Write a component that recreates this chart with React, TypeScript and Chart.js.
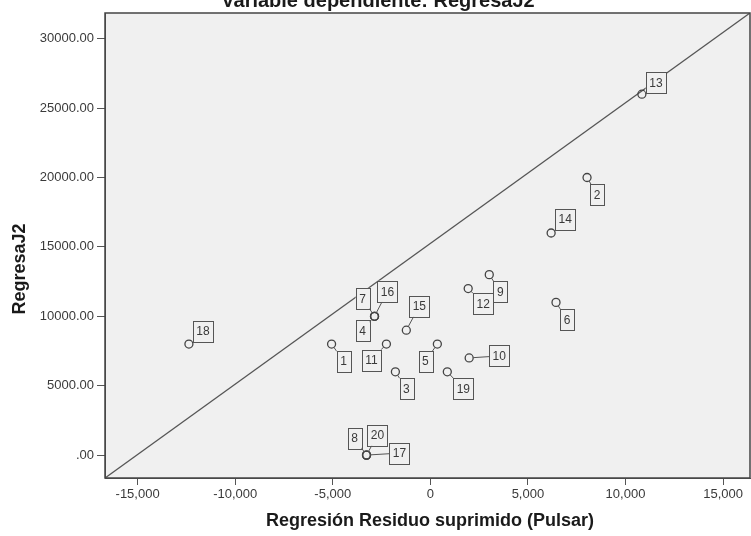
import React, { useEffect, useRef } from 'react';
import { Chart, registerables } from 'chart.js';

Chart.register(...registerables);

// ---- Data ----
const caseLabels = ['1', '2', '3', '4', '5', '6', '7', '8', '9', '10', '11', '12', '13', '14', '15', '16', '17', '18', '19', '20'];
const residualX = [-5060, 8030, -1790, -2860, 360, 6440, -2860, -3270, 3020, 1990, -2250, 1940, 10840, 6190, -1230, -2860, -3270, -12370, 870, -3270];
const dependentY = [8000, 20000, 6000, 10000, 8000, 11000, 10000, 0, 13000, 7000, 8000, 12000, 26000, 16000, 9000, 10000, 0, 8000, 6000, 0];
const xTickValues = [-15000, -10000, -5000, 0, 5000, 10000, 15000];
const yTickValues = [0, 5000, 10000, 15000, 20000, 25000, 30000];
const refLineX = [-16670, 16380];
const refLineY = [-1650, 31850];

const chartTitle = 'Variable dependiente: RegresaJ2';
const xAxisTitle = 'Regresión Residuo suprimido (Pulsar)';
const yAxisTitle = 'RegresaJ2';

// ---- Layout / style constants (label box offsets in pixels from each point) ----
const labelOffsets: [number, number][] = [
  [12, 17], [10, 17], [11, 17], [-12, 14], [-12, 17], [11, 17], [-12, -18], [-12, -17], [11, 17], [30, -2],
  [-15, 16], [15, 15], [14, -12], [14, -14], [13, -24], [13, -25], [33, -2], [14, -13], [16, 17], [11, -20],
];

const FONT = "'Liberation Sans', Arial, sans-serif";
const AXIS_COLOR = '#555555';
const TEXT_COLOR = '#3a3a3a';
const PLOT_BG = '#f0f0f0';

const decorPlugin = {
  id: 'decor',
  beforeDraw(chart: any) {
    const { ctx, chartArea: a } = chart;
    ctx.save();
    ctx.fillStyle = '#ffffff';
    ctx.fillRect(0, 0, chart.width, chart.height);
    ctx.fillStyle = PLOT_BG;
    ctx.fillRect(a.left, a.top, a.right - a.left, a.bottom - a.top);
    ctx.restore();
  },
  afterDraw(chart: any) {
    const { ctx, chartArea: a } = chart;
    const meta = chart.getDatasetMeta(0);
    ctx.save();
    ctx.font = `12px ${FONT}`;
    ctx.textAlign = 'center';
    ctx.textBaseline = 'middle';
    const boxH = 21;
    const r = 4;
    meta.data.forEach((el: any, i: number) => {
      const px = el.x;
      const py = el.y;
      const [dx, dy] = labelOffsets[i];
      const cx = px + dx;
      const cy = py + dy;
      const txt = caseLabels[i];
      const w = ctx.measureText(txt).width + 7;
      const bx0 = cx - w / 2;
      const by0 = cy - boxH / 2;
      const vx = cx - px;
      const vy = cy - py;
      const len = Math.hypot(vx, vy);
      if (len > 0) {
        const tx = vx !== 0 ? (w / 2) / Math.abs(vx) : Infinity;
        const ty = vy !== 0 ? (boxH / 2) / Math.abs(vy) : Infinity;
        const tBox = 1 - Math.min(tx, ty);
        const tCircle = r / len;
        if (tBox - tCircle > 0) {
          const ex = px + vx * tBox;
          const ey = py + vy * tBox;
          const sx = px + vx * tCircle;
          const sy = py + vy * tCircle;
          if (Math.hypot(ex - sx, ey - sy) > 2) {
            ctx.strokeStyle = '#555555';
            ctx.lineWidth = 1;
            ctx.beginPath();
            ctx.moveTo(sx, sy);
            ctx.lineTo(ex, ey);
            ctx.stroke();
          }
        }
      }
      ctx.fillStyle = PLOT_BG;
      ctx.fillRect(bx0, by0, w, boxH);
      ctx.strokeStyle = '#555555';
      ctx.lineWidth = 1;
      ctx.strokeRect(Math.round(bx0) + 0.5, Math.round(by0) + 0.5, Math.round(w), boxH);
      ctx.fillStyle = TEXT_COLOR;
      ctx.fillText(txt, cx, cy + 1);
    });

    // plot frame
    ctx.strokeStyle = '#444444';
    ctx.lineWidth = 1.5;
    ctx.strokeRect(a.left, a.top, a.right - a.left, a.bottom - a.top);

    // titles
    ctx.fillStyle = '#1a1a1a';
    ctx.textAlign = 'center';
    ctx.font = `bold 20px ${FONT}`;
    ctx.textBaseline = 'alphabetic';
    ctx.fillText(chartTitle, 378, 7);

    ctx.font = `bold 18px ${FONT}`;
    ctx.textBaseline = 'middle';
    ctx.fillText(xAxisTitle, 430, 521);

    ctx.save();
    ctx.translate(20, 269);
    ctx.rotate(-Math.PI / 2);
    ctx.fillText(yAxisTitle, 0, 0);
    ctx.restore();

    ctx.restore();
  },
};

export default function App() {
  const canvasRef = useRef<HTMLCanvasElement | null>(null);

  useEffect(() => {
    if (!canvasRef.current) return;
    const points = residualX.map((x, i) => ({ x, y: dependentY[i] }));
    const line = refLineX.map((x, i) => ({ x, y: refLineY[i] }));

    const chart = new Chart(canvasRef.current, {
      type: 'scatter',
      data: {
        datasets: [
          {
            data: points,
            order: 0,
            pointRadius: 4,
            pointHoverRadius: 4,
            pointBorderWidth: 1.3,
            borderColor: '#444444',
            backgroundColor: 'rgba(0,0,0,0)',
            pointBackgroundColor: 'rgba(0,0,0,0)',
            pointBorderColor: '#444444',
          },
          {
            data: line,
            order: 1,
            showLine: true,
            pointRadius: 0,
            borderColor: '#555555',
            borderWidth: 1.3,
            backgroundColor: 'rgba(0,0,0,0)',
          } as any,
        ],
      },
      options: {
        animation: false,
        responsive: false,
        devicePixelRatio: 1,
        layout: { autoPadding: false, padding: { left: 8, right: 1, top: 13, bottom: 0 } },
        plugins: {
          legend: { display: false },
          tooltip: { enabled: false },
          title: { display: false },
        },
        scales: {
          x: {
            type: 'linear',
            min: refLineX[0],
            max: refLineX[1],
            afterBuildTicks: (s: any) => {
              s.ticks = xTickValues.map((v) => ({ value: v }));
            },
            afterFit: (s: any) => {
              s.height = 58;
              s.paddingLeft = 0;
              s.paddingRight = 0;
            },
            grid: { drawOnChartArea: false, drawTicks: true, tickLength: 7, color: AXIS_COLOR },
            border: { display: true, color: AXIS_COLOR },
            ticks: {
              autoSkip: false,
              maxRotation: 0,
              padding: 2,
              color: TEXT_COLOR,
              font: { family: FONT, size: 13 },
              callback: (v: any) => Number(v).toLocaleString('en-US'),
            },
          },
          y: {
            type: 'linear',
            min: refLineY[0],
            max: refLineY[1],
            afterBuildTicks: (s: any) => {
              s.ticks = yTickValues.map((v) => ({ value: v }));
            },
            afterFit: (s: any) => {
              s.width = 97;
              s.paddingTop = 0;
              s.paddingBottom = 0;
            },
            grid: { drawOnChartArea: false, drawTicks: true, tickLength: 8, color: AXIS_COLOR },
            border: { display: true, color: AXIS_COLOR },
            ticks: {
              autoSkip: false,
              padding: 3,
              color: TEXT_COLOR,
              font: { family: FONT, size: 13 },
              callback: (v: any) => (Number(v) === 0 ? '.00' : Number(v).toFixed(2)),
            },
          },
        },
      } as any,
      plugins: [decorPlugin],
    });

    return () => chart.destroy();
  }, []);

  return (
    <div style={{ position: 'absolute', left: 0, top: 0, width: 751, height: 536 }}>
      <canvas ref={canvasRef} width={751} height={536} style={{ display: 'block' }} />
    </div>
  );
}
